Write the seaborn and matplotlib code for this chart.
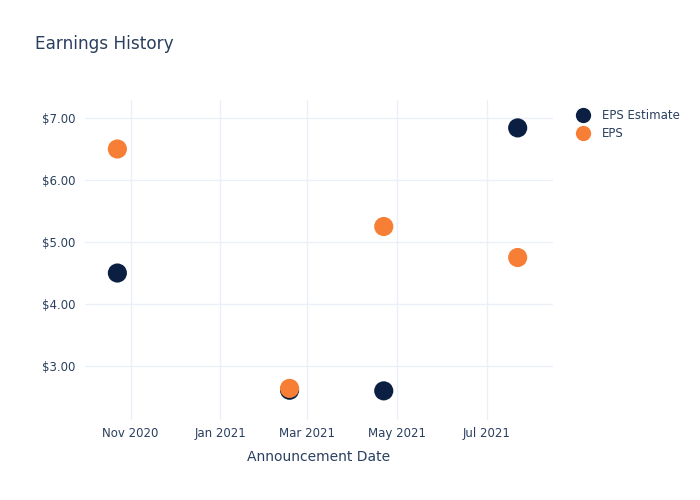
import matplotlib
matplotlib.use("Agg")
import matplotlib.pyplot as plt
import matplotlib.dates as mdates
import seaborn as sns
import pandas as pd
import numpy as np
from matplotlib.lines import Line2D

dates = ["2020-10-23", "2021-02-17", "2021-04-22", "2021-07-22"]
eps_estimate = [4.50, 2.61, 2.60, 6.84]
eps_actual = [6.50, 2.64, 5.25, 4.75]
series_names = ["EPS Estimate", "EPS"]
colors = {"EPS Estimate": "#0b1f42", "EPS": "#f77f35"}
y_ticks = [3, 4, 5, 6, 7]
x_ticks = ["2020-11-01", "2021-01-01", "2021-03-01", "2021-05-01", "2021-07-01"]

df = pd.DataFrame({
    "date": pd.to_datetime(dates * 2),
    "value": eps_estimate + eps_actual,
    "series": [series_names[0]] * len(dates) + [series_names[1]] * len(dates),
})

sns.set_theme(style="white")
text_color = "#2a3f5f"
grid_color = "#ebf0f8"
plt.rcParams["font.family"] = ["DejaVu Sans"]

fig = plt.figure(figsize=(7, 5), dpi=100)
ax = fig.add_axes([85 / 700, 80 / 500, (553 - 85) / 700, 320 / 500])

sns.scatterplot(data=df, x="date", y="value", hue="series", palette=colors,
                s=190, linewidth=0, ax=ax, legend=False, zorder=3)

ax.set_xlim(pd.Timestamp("2020-10-01"), pd.Timestamp("2021-08-15"))
ax.set_ylim(2.13, 7.29)
ax.set_yticks(y_ticks)
ax.set_yticklabels([f"${v:.2f}" for v in y_ticks])
ax.set_xticks(pd.to_datetime(x_ticks))
ax.xaxis.set_major_formatter(mdates.DateFormatter("%b %Y"))

for s in ax.spines.values():
    s.set_visible(False)
ax.grid(True, color=grid_color, linewidth=1)
ax.set_axisbelow(True)
ax.tick_params(axis="both", length=0, labelsize=8.5, colors=text_color)
ax.tick_params(axis="y", pad=7)
ax.tick_params(axis="x", pad=5)
ax.set_xlabel("Announcement Date", fontsize=10, color=text_color, labelpad=7)
ax.set_ylabel("")

fig.text(35 / 700, 1 - 44 / 500, "Earnings History", fontsize=12.2,
         color=text_color, va="center", ha="left")

handles = [Line2D([0], [0], marker="o", linestyle="", markersize=11,
                  markerfacecolor=colors[n], markeredgewidth=0, label=n)
           for n in series_names]
fig.legend(handles=handles, loc="upper left", bbox_to_anchor=(569 / 700, 1 - 104 / 500),
           frameon=False, fontsize=8.5, labelcolor=text_color, handletextpad=0.9,
           labelspacing=0.45, borderaxespad=0, handlelength=1.5)

fig.savefig("out.png", dpi=100)
